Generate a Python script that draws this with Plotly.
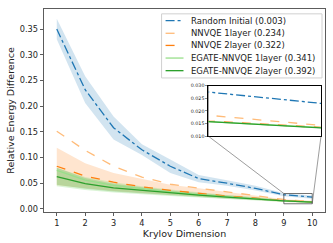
import plotly.graph_objects as go

krylov = [1, 2, 3, 4, 5, 6, 7, 8, 9, 10]

rand_mean = [0.350, 0.232, 0.158, 0.115, 0.083, 0.059, 0.050, 0.040, 0.0275, 0.023]
rand_lo   = [0.330, 0.206, 0.135, 0.105, 0.070, 0.052, 0.045, 0.036, 0.0245, 0.020]
rand_hi   = [0.370, 0.258, 0.180, 0.126, 0.096, 0.066, 0.056, 0.045, 0.0305, 0.026]

nn1_mean = [0.151, 0.114, 0.083, 0.062, 0.048, 0.040, 0.033, 0.026, 0.0183, 0.0143]

nn2_mean = [0.083, 0.064, 0.052, 0.043, 0.036, 0.030, 0.025, 0.021, 0.0160, 0.0135]
nn2_lo   = [0.046, 0.040, 0.035, 0.031, 0.027, 0.024, 0.021, 0.018, 0.0135, 0.0120]
nn2_hi   = [0.119, 0.089, 0.070, 0.058, 0.047, 0.040, 0.033, 0.027, 0.0190, 0.0160]

eg1_mean = [0.075, 0.056, 0.046, 0.039, 0.033, 0.028, 0.024, 0.020, 0.0158, 0.0134]
eg1_lo   = [0.044, 0.037, 0.032, 0.028, 0.025, 0.022, 0.019, 0.017, 0.0135, 0.0115]
eg1_hi   = [0.080, 0.062, 0.052, 0.044, 0.038, 0.032, 0.027, 0.023, 0.0180, 0.0150]

eg2_mean = [0.063, 0.049, 0.041, 0.036, 0.031, 0.027, 0.023, 0.019, 0.0158, 0.0133]
eg2_lo   = [0.047, 0.039, 0.034, 0.030, 0.027, 0.023, 0.020, 0.017, 0.0140, 0.0120]
eg2_hi   = [0.080, 0.060, 0.049, 0.042, 0.036, 0.031, 0.026, 0.022, 0.0175, 0.0148]

labels = ["Random Initial (0.003)", "NNVQE 1layer (0.234)", "NNVQE 2layer (0.322)",
          "EGATE-NNVQE 1layer (0.341)", "EGATE-NNVQE 2layer (0.392)"]

main_yticks = [0.00, 0.05, 0.10, 0.15, 0.20, 0.25, 0.30, 0.35]
inset_yticks = [0.010, 0.015, 0.020, 0.025, 0.030]

BLUE = "#1f77b4"; LORANGE = "#ffbb78"; ORANGE = "#ff7f0e"; LGREEN = "#98df8a"; GREEN = "#2ca02c"

def rgba(h, a):
    h = h.lstrip("#")
    return "rgba(%d,%d,%d,%.2f)" % (int(h[0:2], 16), int(h[2:4], 16), int(h[4:6], 16), a)

fig = go.Figure()

def band(lo, hi, color, a=0.2):
    fig.add_trace(go.Scatter(x=krylov, y=lo, mode="lines", line=dict(width=0), showlegend=False, hoverinfo="skip"))
    fig.add_trace(go.Scatter(x=krylov, y=hi, mode="lines", line=dict(width=0), fill="tonexty",
                             fillcolor=rgba(color, a), showlegend=False, hoverinfo="skip"))

band(rand_lo, rand_hi, BLUE, 0.2)
band(nn2_lo, nn2_hi, ORANGE, 0.2)
band(eg1_lo, eg1_hi, LGREEN, 0.35)
band(eg2_lo, eg2_hi, GREEN, 0.2)

series = [
    (rand_mean, BLUE, "dashdot", labels[0]),
    (nn1_mean, LORANGE, "dash", labels[1]),
    (nn2_mean, ORANGE, "dash", labels[2]),
    (eg1_mean, LGREEN, "solid", labels[3]),
    (eg2_mean, GREEN, "solid", labels[4]),
]
for ys, c, d, name in series:
    fig.add_trace(go.Scatter(x=krylov, y=ys, mode="lines", name=name, showlegend=False,
                             line=dict(color=c, dash=d, width=1.3)))
for ys, c, d, name in series:
    fig.add_trace(go.Scatter(x=krylov, y=ys, mode="lines", showlegend=False,
                             line=dict(color=c, dash=d, width=1.3), xaxis="x2", yaxis="y2"))

W, H = 333, 243
L, R, T, B = 44, 326, 7, 216   # plot-area pixel edges

def X(px):
    return (px - L) / (R - L)

def Y(py):
    return (B - py) / (B - T)

xr = [0.55, 10.45]
yr = [-0.006, 0.389]
ix = [X(209), X(322)]
iy = [Y(138), Y(86)]
ixr = [9, 10]
iyr = [0.010, 0.030]

def px2x(p):
    return xr[0] + p * (xr[1] - xr[0])

def py2y(p):
    return yr[0] + p * (yr[1] - yr[0])

shapes = [
    dict(type="rect", xref="x", yref="y", x0=ixr[0], x1=ixr[1], y0=iyr[0], y1=iyr[1],
         line=dict(color="rgba(90,90,90,0.85)", width=1), fillcolor="rgba(0,0,0,0)"),
    dict(type="line", xref="x", yref="y", x0=px2x(ix[0]), y0=py2y(iy[0]), x1=ixr[0], y1=iyr[1],
         line=dict(color="rgba(90,90,90,0.75)", width=0.8)),
    dict(type="line", xref="x", yref="y", x0=px2x(ix[1]), y0=py2y(iy[0]), x1=ixr[1], y1=iyr[0],
         line=dict(color="rgba(90,90,90,0.75)", width=0.8)),
    dict(type="rect", xref="paper", yref="paper", x0=ix[0], x1=ix[1], y0=iy[0], y1=iy[1],
         line=dict(color="black", width=1), fillcolor="white", layer="below"),
]

# manual legend (compact, matplotlib-like)
annotations = []
shapes.append(dict(type="rect", xref="paper", yref="paper", x0=X(162), x1=X(323), y0=Y(78), y1=Y(12),
                   line=dict(color="#d0d0d0", width=1), fillcolor="rgba(255,255,255,0.85)"))
leg_y = [19, 32, 44.5, 57.5, 70.5]
for (ys, c, d, name), py in zip(series, leg_y):
    shapes.append(dict(type="line", xref="paper", yref="paper", x0=X(166), x1=X(184), y0=Y(py), y1=Y(py),
                       line=dict(color=c, dash=d, width=1.3)))
    annotations.append(dict(text=name, xref="paper", yref="paper", x=X(190), y=Y(py),
                            xanchor="left", yanchor="middle", showarrow=False,
                            font=dict(size=8.5, color="#222")))

fig.update_layout(
    width=W, height=H,
    margin=dict(l=L, r=W - R, t=T, b=H - B),
    paper_bgcolor="white", plot_bgcolor="white",
    font=dict(family="DejaVu Sans", size=8.2, color="#222"),
    showlegend=False,
    hovermode=False,
    xaxis=dict(range=xr, tickvals=krylov, ticks="outside", ticklen=3.5, tickwidth=0.8, tickcolor="#333",
               showgrid=False, zeroline=False, showline=True, linecolor="#333", linewidth=0.8, mirror=True,
               title=dict(text="Krylov Dimension", font=dict(size=9.5), standoff=1)),
    yaxis=dict(range=yr, tickvals=main_yticks, tickformat=".2f",
               ticks="outside", ticklen=3.5, tickwidth=0.8, tickcolor="#333",
               showgrid=False, zeroline=False, showline=True, linecolor="#333", linewidth=0.8, mirror=True,
               title=dict(text="Relative Energy Difference", font=dict(size=9.5), standoff=3)),
    xaxis2=dict(domain=ix, anchor="y2", range=ixr, showticklabels=False, ticks="", showgrid=False,
                zeroline=False, showline=True, linecolor="black", linewidth=1, mirror=True),
    yaxis2=dict(domain=iy, anchor="x2", range=iyr, tickvals=inset_yticks, tickformat=".3f",
                tickfont=dict(size=4.8), ticks="outside", ticklen=2, tickwidth=0.6, showgrid=False,
                zeroline=False, showline=True, linecolor="black", linewidth=1, mirror=True),
    shapes=shapes,
    annotations=annotations,
)

fig.write_html("out.html", config={"displayModeBar": False, "staticPlot": True},
               post_script="document.body.style.margin='0';document.body.style.overflow='hidden';")
